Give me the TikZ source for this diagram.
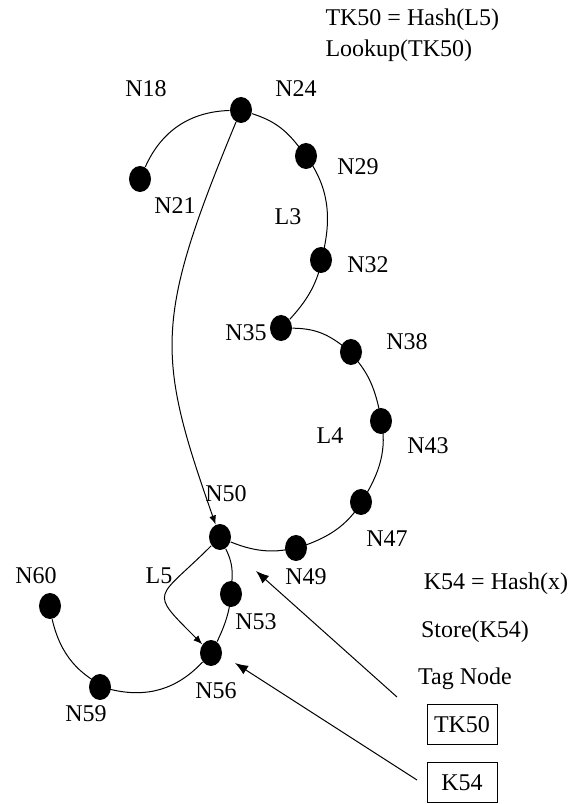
\documentclass[tikz,border=0pt]{standalone}
\usepackage{fontspec}
\setmainfont{Liberation Serif}
\usetikzlibrary{shapes.geometric,arrows.meta}

\begin{document}
\begin{tikzpicture}[x=1pt,y=1pt,line width=1pt,
    font=\fontsize{24}{24}\selectfont,
    dot/.style={ellipse,fill=black,minimum width=22pt,minimum height=26pt,inner sep=0pt},
    lbl/.style={inner sep=0pt},
    tagbox/.style={draw,minimum width=70pt,minimum height=40pt,inner sep=0pt},
    >={Latex[length=9pt,width=7pt]},
    bigtip/.style={-{Latex[length=13pt,width=10pt]}}]
    \useasboundingbox (0,0) rectangle (576,804);

    % 1) Nodes of the rings
    \node[dot] (n21) at (140,625) {};
    \node[dot] (n24) at (241,694) {};
    \node[dot] (n29) at (306,648) {};
    \node[dot] (n32) at (321,544) {};
    \node[dot] (n35) at (281,476) {};
    \node[dot] (n38) at (351,452) {};
    \node[dot] (n43) at (381,383) {};
    \node[dot] (n47) at (361,302) {};
    \node[dot] (n49) at (296,256) {};
    \node[dot] (n50) at (220,267) {};
    \node[dot] (n53) at (231,210) {};
    \node[dot] (n56) at (211,151) {};
    \node[dot] (n59) at (100,117) {};
    \node[dot] (n60) at (50,198) {};

    % 2) Node names
    \node[lbl] (t18) at (146,715) {N18};
    \node[lbl] (t24) at (296,715) {N24};
    \node[lbl] (t21) at (175,598) {N21};
    \node[lbl] (t29) at (358,637) {N29};
    \node[lbl] (t32) at (368,539) {N32};
    \node[lbl] (t35) at (246,471) {N35};
    \node[lbl] (t38) at (407,462) {N38};
    \node[lbl] (t43) at (428,358) {N43};
    \node[lbl] (t47) at (387,265) {N47};
    \node[lbl] (t49) at (306,227) {N49};
    \node[lbl] (t50) at (226,310) {N50};
    \node[lbl] (t53) at (256,182) {N53};
    \node[lbl] (t56) at (216,113) {N56};
    \node[lbl] (t59) at (86,90) {N59};
    \node[lbl] (t60) at (36,228) {N60};

    % 3) Ring names
    \node[lbl] (l3) at (288,587) {L3};
    \node[lbl] (l4) at (330,368) {L4};
    \node[lbl] (l5) at (159,228) {L5};

    % 4) Notes and tags
    \node[lbl,anchor=base west] (hash5) at (325,778) {TK50 = Hash(L5)};
    \node[lbl,anchor=base west] (look) at (325,747) {Lookup(TK50)};
    \node[lbl] (hashx) at (496,220) {K54 = Hash(x)};
    \node[lbl] (store) at (475,172) {Store(K54)};
    \node[lbl] (tag) at (465,125) {Tag Node};
    \node[tagbox] (tk50) at (462,79) {TK50};
    \node[tagbox] (k54) at (462,21) {K54};

    % 5) Ring arcs
    \draw (n21) to[bend left=32] (n24);
    \draw (n24) to[bend left=17] (n29) to[bend left=26] (n32) to[bend left=17] (n35);
    \draw (n35) to[bend left=18] (n38) to[bend left=18] (n43) to[bend left=22] (n47)
          to[bend left=21] (n49) to[bend left=20] (n50);
    \draw (n50) to[bend left=15] (n53) to[bend left=12] (n56);
    \draw (n56) to[bend left=30] (n59) to[bend left=27] (n60);

    % 6) Lookup and store routes
    \draw[->] (n24) .. controls (154,484) and (156,449) .. (n50);
    \draw[->] (n50) to[out=-135,in=135,looseness=2] (n56);

    % 7) Tag pointers
    \coordinate (tkfoot) at (397,107);
    \coordinate (tkhead) at (256,233);
    \coordinate (kfoot) at (417,24);
    \coordinate (khead) at (235,141);
    \draw[bigtip] (tkfoot) -- (tkhead);
    \draw[bigtip] (kfoot) -- (khead);
\end{tikzpicture}
\end{document}
